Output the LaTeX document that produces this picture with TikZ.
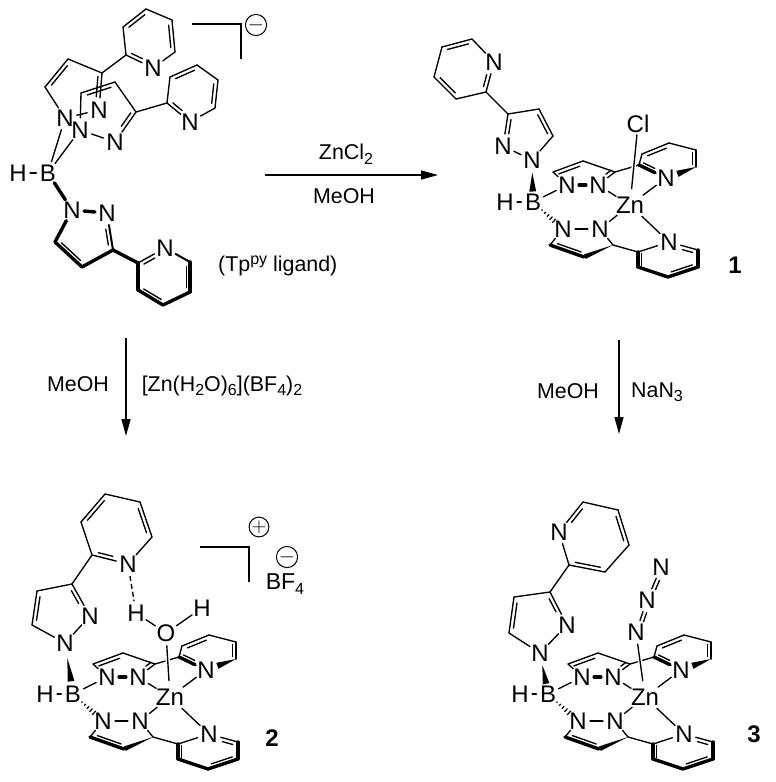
\documentclass[tikz,border=0pt]{standalone}
\usepackage{fontspec}
\setmainfont{Liberation Sans}
\usetikzlibrary{calc,arrows.meta}
\newcommand\lowr[1]{\raisebox{-4.5pt}{\fontsize{16}{16}\selectfont #1}}
\newcommand\ibond[4]{\draw[bond] ($(#1)!#3!(#2)!3.8pt!-90:(#2)$) -- ($(#1)!#4!(#2)!3.8pt!-90:(#2)$);}
% wedge: tip (narrow) at fraction #3 and base at fraction #4 along #1--#2, half width #5
\newcommand\wdg[5]{\fill ($(#1)!#3!(#2)$) -- ($(#1)!#4!(#2)!#5!90:(#2)$) -- ($(#1)!#4!(#2)!#5!-90:(#2)$) -- cycle;}
\newcommand\hashbond[2]{\foreach \f/\w in {.3/.7pt,.4/1.2pt,.5/1.7pt,.6/2.2pt,.7/2.7pt}{\draw[line width=1.2pt] ($(#1)!\f!(#2)!\w!90:(#2)$) -- ($(#1)!\f!(#2)!\w!-90:(#2)$);}}
\tikzset{
  atom/.style={circle,inner sep=0pt,font=\fontsize{24}{24}\selectfont},
  txt/.style={inner sep=0pt,font=\fontsize{21.4}{21.4}\selectfont},
  numlabel/.style={inner sep=0pt,font=\fontsize{24}{24}\selectfont\bfseries},
  bond/.style={line width=1.35pt,line cap=round},
  med/.style={line width=2pt,line cap=round},
  heavy/.style={line width=3.4pt,line cap=round},
  over/.style={bond,preaction={draw,white,line width=4.5pt,line cap=butt}},
  reaction/.style={line width=1.35pt,-{Triangle[length=17pt,width=9pt]}},
  charge/.style={circle,draw,line width=1pt,minimum size=19pt,inner sep=0pt,font=\fontsize{20}{20}\selectfont},
}
\newcommand\core[2]{%
\begin{scope}[shift={(#1,#2)}]
  \node[atom] (H) at (505,202) {H};
  \node[atom] (B) at (533,202) {B};
  \node[atom] (NUL) at (567,185) {N};
  \node[atom] (NUR) at (598,185) {N};
  \node[atom] (NLL) at (563,229) {N};
  \node[atom] (NLR) at (600,229) {N};
  \node[atom] (Zn) at (630,205) {Zn};
  \node[atom] (NPA) at (666,178) {N};
  \node[atom] (NPB) at (669,242) {N};
  \coordinate (u1) at (553,172);
  \coordinate (u2) at (583,161);
  \coordinate (u3) at (615,172);
  \coordinate (a1) at (639,165);
  \coordinate (a2) at (642,154);
  \coordinate (a3) at (669,143);
  \coordinate (a4) at (696,150);
  \coordinate (a5) at (696,167);
  \coordinate (l1) at (550,245);
  \coordinate (l2) at (584,257);
  \coordinate (l3) at (613,245);
  \coordinate (b1) at (638,252);
  \coordinate (b2) at (638,267);
  \coordinate (b3) at (668,277);
  \coordinate (b4) at (698,267);
  \coordinate (b5) at (698,250);
  \draw[bond] (H)--(B);
  \draw[bond] (B)--(NUL);
  \hashbond{B}{NLL}
  \draw[heavy] (NUL)--(NUR);
  \draw[bond] (NLL)--(NLR);
  \draw[bond] (NUL)--(u1);
  \draw[bond] (u1)--(u2);
  \ibond{u1}{u2}{.15}{.85}
  \draw[bond] (u2)--(u3);
  \draw[bond] (u3)--(NUR);
  \ibond{u3}{NUR}{.1}{.4}
  \draw[bond] (u3)--(a1);
  \draw[bond] (a1)--(a2);
  \draw[bond] (a2)--(a3);
  \ibond{a2}{a3}{.15}{.85}
  \draw[bond] (a3)--(a4);
  \draw[bond] (a4)--(a5);
  \ibond{a4}{a5}{.15}{.85}
  \wdg{a5}{NPA}{0}{.62}{3.2pt}
  \draw[heavy] (NPA)--(a1);
  \ibond{NPA}{a1}{.48}{.9}
  \draw[bond] (NLL)--(l1);
  \draw[heavy] (l1)--(l2);
  \ibond{l2}{l1}{.12}{.82}
  \wdg{l3}{l2}{0}{.97}{2.4pt}
  \draw[bond] (NLR)--(l3);
  \draw[bond] (l3)--(b1);
  \draw[bond] (b1)--(NPB);
  \draw[heavy] (b1)--(b2);
  \ibond{b2}{b1}{.1}{.9}
  \draw[heavy] (b2)--(b3);
  \draw[heavy] (b3)--(b4);
  \ibond{b4}{b3}{.15}{.85}
  \draw[heavy] (b4)--(b5);
  \draw[bond] (b5)--(NPB);
  \ibond{NPB}{b5}{.5}{.85}
  \draw[bond] (Zn)--(NUR);
  \draw[bond] (Zn)--(NLR);
  \draw[bond] (Zn)--(NPA);
  \draw[bond] (Zn)--(NPB);
\end{scope}}
\begin{document}
\begin{tikzpicture}[x=1pt,y=-1pt]
\useasboundingbox (0,0) rectangle (776,782);
% ---------- ligand
\node[atom] (H0) at (18,173) {H};
\node[atom] (B0) at (48,173) {B};
\node[atom] (A1) at (72,210) {N};
\node[atom] (A2) at (107,213) {N};
\coordinate (A3) at (113,250);
\coordinate (A4) at (82,267);
\coordinate (A5) at (55,242);
\coordinate (P1) at (138,263);
\node[atom] (P2) at (165,248) {N};
\coordinate (P3) at (190,262);
\coordinate (P4) at (190,292);
\coordinate (P5) at (163,305);
\coordinate (P6) at (138,290);
\draw[bond] (H0)--(B0);
\draw[heavy] (B0)--(A1);
\draw[heavy] (A1)--(A2);
\draw[med] (A2)--(A3);
\ibond{A2}{A3}{.42}{.85}
\draw[heavy] (A3)--(A4);
\draw[heavy] (A4)--(A5);
\ibond{A4}{A5}{.15}{.85}
\draw[heavy] (A5)--(A1);
\draw[heavy] (A3)--(P1);
\draw[bond] (P1)--(P2);
\ibond{P1}{P2}{.15}{.55}
\draw[med] (P2)--(P3);
\draw[heavy] (P3)--(P4);
\ibond{P3}{P4}{.15}{.85}
\draw[heavy] (P4)--(P5);
\draw[heavy] (P5)--(P6);
\ibond{P5}{P6}{.15}{.85}
\draw[heavy] (P6)--(P1);
% second pyrazole
\node[atom] (R1) at (65,118) {N};
\node[atom] (R2) at (99,110) {N};
\coordinate (R3) at (45,87);
\coordinate (R4) at (68,59);
\coordinate (R5) at (102,73);
\coordinate (Q1) at (126,55);
\node[atom] (Q2) at (153,68) {N};
\coordinate (Q3) at (175,52);
\coordinate (Q4) at (172,20);
\coordinate (Q5) at (146,9);
\coordinate (Q6) at (123,27);
\draw[bond] (B0)--(R1);
\draw[bond] (R1)--(R3);
\draw[bond] (R3)--(R4);
\ibond{R3}{R4}{.15}{.85}
\draw[bond] (R4)--(R5);
\draw[bond] (R5)--(R2);
\ibond{R5}{R2}{.1}{.65}
\draw[bond] (R1)--(R2);
\draw[bond] (R5)--(Q1);
\draw[bond] (Q1)--(Q6);
\draw[bond] (Q6)--(Q5);
\ibond{Q6}{Q5}{.15}{.85}
\draw[bond] (Q5)--(Q4);
\draw[bond] (Q4)--(Q3);
\ibond{Q4}{Q3}{.15}{.85}
\draw[bond] (Q3)--(Q2);
\draw[bond] (Q2)--(Q1);
\ibond{Q2}{Q1}{.45}{.85}
% third pyrazole
\node[atom] (S1) at (80,130) {N};
\node[atom] (S2) at (115,142) {N};
\coordinate (S3) at (81,93);
\coordinate (S4) at (115,82);
\coordinate (S5) at (136,112);
\coordinate (T1) at (167,103);
\node[atom] (T2) at (190,122) {N};
\coordinate (T3) at (215,108);
\coordinate (T4) at (218,80);
\coordinate (T5) at (197,65);
\coordinate (T6) at (170,77);
\draw[bond] (B0)--(S1);
\draw[bond] (S1)--(S3);
\draw[bond] (S3)--(S4);
\ibond{S3}{S4}{.15}{.85}
\draw[bond] (S4)--(S5);
\draw[bond] (S5)--(S2);
\ibond{S5}{S2}{.1}{.55}
\draw[bond] (S1)--(S2);
\draw[bond] (S5)--(T1);
\draw[bond] (T1)--(T6);
\draw[bond] (T6)--(T5);
\ibond{T6}{T5}{.15}{.85}
\draw[bond] (T5)--(T4);
\draw[bond] (T4)--(T3);
\ibond{T4}{T3}{.15}{.85}
\draw[bond] (T3)--(T2);
\draw[bond] (T2)--(T1);
\ibond{T2}{T1}{.45}{.85}
% bracket
\coordinate (k1) at (192,24);
\coordinate (k2) at (241,24);
\coordinate (k3) at (241,59);
\draw[bond,line cap=butt] (k1)--(k2)--(k3);
\node[charge] (c0) at (256,25) {$-$};
\node[txt,anchor=west] (tp) at (218,266) {(Tp\raisebox{7pt}{\fontsize{16}{16}\selectfont py} ligand)};
% ---------- arrows and reagents
\coordinate (ar1) at (265,175);
\coordinate (ar2) at (438,175);
\draw[reaction] (ar1)--(ar2);
\node[txt] (t1) at (346,154) {ZnCl\lowr{2}};
\node[txt] (t2) at (344,196) {MeOH};
\coordinate (ar3) at (126,338);
\coordinate (ar4) at (126,436);
\draw[reaction] (ar3)--(ar4);
\node[txt] (t3) at (78,384) {MeOH};
\node[txt] (t4) at (222,386) {[Zn(H\lowr{2}O)\lowr{6}](BF\lowr{4})\lowr{2}};
\coordinate (ar5) at (619,340);
\coordinate (ar6) at (619,434);
\draw[reaction] (ar5)--(ar6);
\node[txt] (t5) at (568,391) {MeOH};
\node[txt] (t6) at (657,392) {NaN\lowr{3}};
% ---------- complex 1
\core{0}{0}
\node[atom] (c1N1) at (532,160) {N};
\node[atom] (c1N2) at (503,146) {N};
\coordinate (c1a) at (508,114);
\coordinate (c1b) at (539,109);
\coordinate (c1c) at (553,136);
\coordinate (c1p1) at (486,92);
\coordinate (c1p2) at (456,99);
\coordinate (c1p3) at (434,77);
\coordinate (c1p4) at (442,47);
\coordinate (c1p5) at (472,39);
\node[atom] (c1p6) at (494,62) {N};
\node[atom,rectangle,inner ysep=2pt] (Cl) at (638,124) {Cl};
\wdg{c1N1}{B}{.3}{.75}{3.4pt}
\draw[bond] (c1N1)--(c1N2);
\draw[bond] (c1N2)--(c1a);
\ibond{c1N2}{c1a}{.4}{.85}
\draw[bond] (c1a)--(c1b);
\draw[bond] (c1b)--(c1c);
\ibond{c1b}{c1c}{.15}{.85}
\draw[bond] (c1c)--(c1N1);
\draw[bond] (c1a)--(c1p1);
\draw[bond] (c1p1)--(c1p2);
\draw[bond] (c1p2)--(c1p3);
\ibond{c1p2}{c1p3}{.15}{.85}
\draw[bond] (c1p3)--(c1p4);
\draw[bond] (c1p4)--(c1p5);
\ibond{c1p4}{c1p5}{.15}{.85}
\draw[bond] (c1p5)--(c1p6);
\draw[bond] (c1p6)--(c1p1);
\ibond{c1p6}{c1p1}{.45}{.85}
\draw[over] (Zn)--(Cl);
\node[numlabel] (lab1) at (735,265) {1};
% ---------- complex 2
\core{-460}{492}
\node[atom] (c2N1) at (65,643) {N};
\node[atom] (c2N2) at (90,616) {N};
\coordinate (c2a) at (72,584);
\coordinate (c2b) at (37,591);
\coordinate (c2c) at (32,625);
\coordinate (c2p1) at (92,555);
\coordinate (c2p2) at (81,522);
\coordinate (c2p3) at (105,494);
\coordinate (c2p4) at (140,502);
\coordinate (c2p5) at (152,537);
\node[atom] (c2p6) at (128,564) {N};
\node[atom] (H1) at (136,613) {H};
\node[atom] (O) at (166,633) {O};
\node[atom] (H2) at (202,608) {H};
\wdg{c2N1}{B}{.3}{.75}{3.4pt}
\draw[bond] (c2N1)--(c2N2);
\draw[bond] (c2N2)--(c2a);
\ibond{c2a}{c2N2}{.15}{.55}
\draw[bond] (c2a)--(c2b);
\draw[bond] (c2b)--(c2c);
\ibond{c2c}{c2b}{.15}{.85}
\draw[bond] (c2c)--(c2N1);
\draw[bond] (c2a)--(c2p1);
\draw[bond] (c2p1)--(c2p2);
\draw[bond] (c2p2)--(c2p3);
\ibond{c2p2}{c2p3}{.15}{.85}
\draw[bond] (c2p3)--(c2p4);
\draw[bond] (c2p4)--(c2p5);
\ibond{c2p4}{c2p5}{.15}{.85}
\draw[bond] (c2p5)--(c2p6);
\draw[bond] (c2p6)--(c2p1);
\ibond{c2p6}{c2p1}{.45}{.85}
\draw[bond,dash pattern=on 5pt off 3pt,line cap=butt] (c2p6)--(H1);
\draw[bond] (H1)--(O);
\draw[bond] (O)--(H2);
\draw[over] (Zn)--(O);
\coordinate (k4) at (200,547);
\coordinate (k5) at (249,547);
\coordinate (k6) at (249,582);
\draw[bond,line cap=butt] (k4)--(k5)--(k6);
\node[charge] (c1) at (259,527) {$+$};
\node[charge] (c2) at (287,557) {$-$};
\node[txt,font=\fontsize{23}{23}\selectfont] (bf) at (285,584) {BF\lowr{4}};
\node[numlabel] (lab2) at (272,738) {2};
% ---------- complex 3
\core{15}{492}
\node[atom] (c3N1) at (540,653) {N};
\node[atom] (c3N2) at (567,625) {N};
\coordinate (c3a) at (550,592);
\coordinate (c3b) at (514,597);
\coordinate (c3c) at (509,633);
\coordinate (c3p1) at (569,565);
\node[atom] (c3p2) at (559,532) {N};
\coordinate (c3p3) at (583,502);
\coordinate (c3p4) at (618,510);
\coordinate (c3p5) at (629,545);
\coordinate (c3p6) at (605,572);
\node[atom] (Na) at (636,632) {N};
\node[atom] (Nb) at (647,600) {N};
\node[atom] (Nc) at (661,567) {N};
\wdg{c3N1}{B}{.3}{.75}{3.4pt}
\draw[bond] (c3N1)--(c3N2);
\draw[bond] (c3N2)--(c3a);
\ibond{c3a}{c3N2}{.15}{.55}
\draw[bond] (c3a)--(c3b);
\draw[bond] (c3b)--(c3c);
\ibond{c3c}{c3b}{.15}{.85}
\draw[bond] (c3c)--(c3N1);
\draw[bond] (c3a)--(c3p1);
\draw[bond] (c3p1)--(c3p2);
\draw[bond] (c3p2)--(c3p3);
\ibond{c3p2}{c3p3}{.4}{.85}
\draw[bond] (c3p3)--(c3p4);
\draw[bond] (c3p4)--(c3p5);
\ibond{c3p4}{c3p5}{.15}{.85}
\draw[bond] (c3p5)--(c3p6);
\draw[bond] (c3p6)--(c3p1);
\ibond{c3p6}{c3p1}{.15}{.85}
\draw[bond] (Na)--(Nb);
\ibond{Na}{Nb}{.36}{.64}
\draw[bond] (Nb)--(Nc);
\ibond{Nb}{Nc}{.36}{.64}
\draw[over] (Zn)--(Na);
\node[numlabel] (lab3) at (754,734) {3};
\end{tikzpicture}
\end{document}
